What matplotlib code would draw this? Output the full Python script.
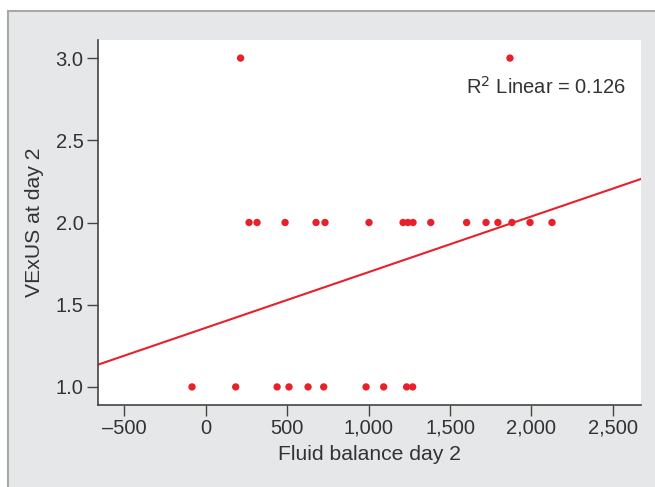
import matplotlib.pyplot as plt
import numpy as np
from matplotlib.patches import Rectangle
from matplotlib.lines import Line2D
from matplotlib.ticker import FuncFormatter

plt.rcParams['font.family'] = ['Liberation Sans', 'DejaVu Sans']

# fluid balance (ml) for each VExUS grade
fb_grade1 = [-83, 185, 439, 512, 629, 725, 985, 1093, 1234, 1271]
fb_grade2 = [267, 316, 488, 678, 733, 1003, 1212, 1242, 1273, 1382,
             1602, 1721, 1794, 1880, 1991, 2126]
fb_grade3 = [215, 1868]

# linear fit as drawn in the source (R^2 = 0.126)
fit_intercept = 1.359
fit_slope = 0.000339

x = np.array(fb_grade1 + fb_grade2 + fb_grade3, dtype=float)
y = np.array([1] * len(fb_grade1) + [2] * len(fb_grade2) + [3] * len(fb_grade3), dtype=float)

red = '#e8202a'
txt = '#333333'
fs = 14.5

fig = plt.figure(figsize=(6.55, 4.87), dpi=100)
fig.patch.set_facecolor('white')

# grey panel behind the chart
px0, py1 = 8 / 655, 1 - 11 / 487
fig.patches.append(Rectangle((px0, -0.02), 1.02 - px0, py1 + 0.02, transform=fig.transFigure,
                             facecolor='#e6e7e8', edgecolor='none', zorder=-10))
fig.lines.append(Line2D([px0, px0], [-0.02, py1], transform=fig.transFigure,
                        color='#a8a8a8', lw=1.5, zorder=-9))
fig.lines.append(Line2D([px0, 1.02], [py1, py1], transform=fig.transFigure,
                        color='#a8a8a8', lw=1.5, zorder=-9))

ax = fig.add_axes([97.5 / 655, 82 / 487, 543.5 / 655, 365 / 487])
ax.set_facecolor('white')

ax.scatter(x, y, s=28, color=red, edgecolors='none', zorder=3)

xmin, xmax = -663, 2672
xl = np.array([xmin, xmax])
ax.plot(xl, fit_intercept + fit_slope * xl, color=red, lw=1.5, zorder=2)

ax.set_xlim(xmin, xmax)
ax.set_ylim(0.89, 3.11)
ax.set_xticks([-500, 0, 500, 1000, 1500, 2000, 2500])
ax.xaxis.set_major_formatter(FuncFormatter(lambda v, p: f'{v:,.0f}'.replace('-', '\u2013')))
ax.set_yticks([1.0, 1.5, 2.0, 2.5, 3.0])
ax.yaxis.set_major_formatter(FuncFormatter(lambda v, p: f'{v:.1f}'))

for s in ['top', 'right']:
    ax.spines[s].set_visible(False)
for s in ['left', 'bottom']:
    ax.spines[s].set_color('#444444')
    ax.spines[s].set_linewidth(1.2)
ax.tick_params(direction='out', length=8, width=1, color='#444444',
               labelsize=fs, labelcolor=txt, pad=2)

ax.set_xlabel('Fluid balance day 2', fontsize=15.2, color=txt, labelpad=5)
ax.set_ylabel('VExUS at day 2', fontsize=15.2, color=txt, labelpad=8)

ax.text(0.972, 0.871, r'R$^2$ Linear = 0.126', transform=ax.transAxes,
        ha='right', va='center', fontsize=fs, color=txt)

fig.savefig('out.png', dpi=100)
